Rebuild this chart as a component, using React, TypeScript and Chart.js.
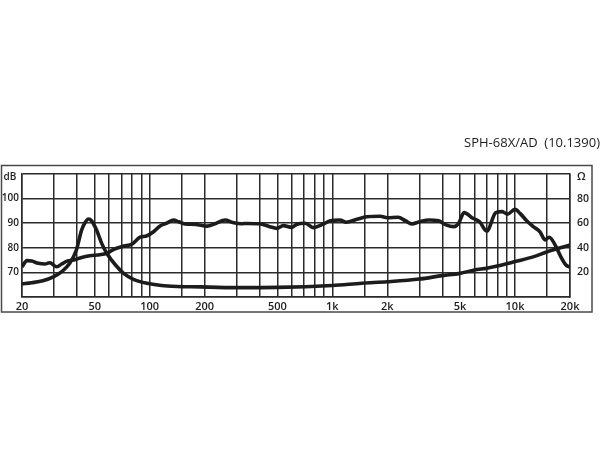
import React, { useEffect, useRef } from "react";
import { Chart, registerables } from "chart.js";

Chart.register(...registerables);

const title = "SPH-68X/AD  (10.1390)";

// SPL response (dB)
const splFreq = [20, 21.3, 22.6, 24.6, 26.7, 28.4, 31, 33, 35.3, 38.4, 42.4, 47, 53.4, 58.2, 63.6, 72, 80, 88.7, 96, 105, 114, 124, 135, 144, 156, 178, 206, 228, 259, 285, 320, 341, 404, 455, 496, 539, 600, 640, 711, 786, 889, 976, 1100, 1192, 1363, 1545, 1828, 2000, 2290, 2510, 2720, 3000, 3380, 3810, 4190, 4630, 4920, 5260, 5880, 6400, 7000, 7850, 8500, 9100, 9990, 10650, 11580, 12600, 13700, 14600, 15400, 16600, 17800, 19000, 20000];
const splDb = [72.3, 74.8, 74.6, 73.7, 73.4, 73.9, 72.3, 73.4, 74.6, 75, 76.1, 76.8, 77.2, 77.8, 79.4, 80.7, 81.5, 84.3, 84.8, 86.5, 88.9, 90, 91.3, 90.6, 89.7, 89.5, 88.8, 89.8, 91.3, 90.3, 89.8, 89.9, 89.7, 88.6, 87.9, 89, 88.3, 89.6, 90, 88.2, 89.6, 91, 91.3, 90.4, 91.6, 92.6, 92.8, 92.2, 92.4, 91, 89.7, 90.6, 91.3, 91, 89.3, 88.6, 90, 94.3, 92, 90.6, 86.8, 94.3, 94.7, 93.7, 95.6, 94, 91, 88.6, 86.5, 83.2, 84.3, 81.1, 76.4, 73, 72.1];

// Impedance (Ω)
const impFreq = [20, 22.6, 26, 29.7, 33, 36.5, 39.7, 42.4, 44.5, 46.2, 48, 51.2, 54.6, 58.2, 65, 72, 81.5, 96.6, 125, 190, 300, 500, 1000, 1450, 2000, 3000, 4000, 5000, 6000, 7000, 8000, 10000, 12700, 15000, 20000];
const impOhm = [10.6, 11.6, 13.2, 16.4, 20.6, 27.4, 38.2, 54.4, 61, 63.4, 62, 54.4, 43.6, 35.6, 26, 19.2, 14.4, 11.2, 9, 8.2, 7.6, 7.8, 9.4, 11.2, 12.4, 14.6, 17.4, 19.2, 22, 23.4, 25.2, 28.8, 32.8, 36.8, 42.2];

// Frequency grid lines and labels
const gridFreqs = [20, 30, 40, 50, 60, 70, 80, 90, 100, 150, 200, 300, 400, 500, 600, 700, 800, 900, 1000, 1500, 2000, 3000, 4000, 5000, 6000, 7000, 8000, 9000, 10000, 15000, 20000];
const freqLabelValues = [20, 50, 100, 200, 500, 1000, 2000, 5000, 10000, 20000];
const freqLabelTexts = ["20", "50", "100", "200", "500", "1k", "2k", "5k", "10k", "20k"];
const dbTicks = [70, 80, 90, 100];
const ohmTicks = [20, 40, 60, 80];

const FONT = "'Open Sans', 'DejaVu Sans', sans-serif";
const INK = "#1c1c1c";
const GRID = "#2b2b2b";

export default function App() {
  const ref = useRef<HTMLCanvasElement | null>(null);

  useEffect(() => {
    if (!ref.current) return;
    const decor = {
      id: "decor",
      afterDraw(chart: any) {
        const ctx = chart.ctx;
        ctx.save();
        // outer frame
        ctx.strokeStyle = "#4a4a4a";
        ctx.lineWidth = 1.5;
        ctx.strokeRect(1.5, 165.5, 590.5, 146.5);
        // title
        ctx.fillStyle = INK;
        ctx.font = `13px ${FONT}`;
        ctx.textAlign = "right";
        ctx.textBaseline = "middle";
        ctx.fillText(title, 600, 143.5);
        // axis unit labels
        ctx.font = `600 10px ${FONT}`;
        ctx.textAlign = "center";
        ctx.fillText("dB", 10, 177);
        ctx.textAlign = "left";
        ctx.font = `600 11px ${FONT}`;
        ctx.fillText("Ω", 577, 177);
        ctx.restore();
      },
    };

    const chart = new Chart(ref.current, {
      type: "line",
      data: {
        datasets: [
          {
            label: "SPL",
            data: splFreq.map((f, i) => ({ x: f, y: splDb[i] })),
            borderColor: INK,
            borderWidth: 3.6,
            pointRadius: 0,
            cubicInterpolationMode: "monotone",
            yAxisID: "y",
          },
          {
            label: "Impedance",
            data: impFreq.map((f, i) => ({ x: f, y: impOhm[i] })),
            borderColor: INK,
            borderWidth: 3.6,
            pointRadius: 0,
            cubicInterpolationMode: "monotone",
            yAxisID: "y2",
          },
        ],
      },
      options: {
        responsive: false,
        animation: false,
        events: [],
        layout: { padding: { top: 174, left: 0, right: 0, bottom: 0 } },
        plugins: { legend: { display: false }, tooltip: { enabled: false }, title: { display: false } },
        scales: {
          x: {
            type: "logarithmic",
            min: 20,
            max: 20000,
            afterBuildTicks: (scale: any) => {
              scale.ticks = gridFreqs.map((v) => ({ value: v }));
            },
            afterFit: (scale: any) => {
              scale.height = 153;
            },
            ticks: {
              autoSkip: false,
              maxRotation: 0,
              minRotation: 0,
              padding: 3,
              color: INK,
              font: { family: FONT, size: 11, weight: "600" },
              callback: (v: any) => {
                const idx = freqLabelValues.indexOf(Number(v));
                return idx >= 0 ? freqLabelTexts[idx] : "";
              },
            },
            grid: { color: GRID, lineWidth: 1.5, drawTicks: false },
            border: { color: GRID, width: 1.5 },
          },
          y: {
            type: "linear",
            position: "left",
            min: 60,
            max: 110,
            afterBuildTicks: (scale: any) => {
              const t = [];
              for (let v = 60; v <= 110; v += 5) t.push({ value: v });
              scale.ticks = t;
            },
            afterFit: (scale: any) => {
              scale.width = 22;
            },
            ticks: {
              padding: 3,
              color: INK,
              font: { family: FONT, size: 10, weight: "600" },
              callback: (v: any) => (dbTicks.includes(Number(v)) ? String(v) : ""),
            },
            grid: { color: GRID, lineWidth: 1.5, drawTicks: false },
            border: { color: GRID, width: 1.5 },
          },
          y2: {
            type: "linear",
            position: "right",
            min: 0,
            max: 100,
            afterBuildTicks: (scale: any) => {
              const t = [];
              for (let v = 0; v <= 100; v += 10) t.push({ value: v });
              scale.ticks = t;
            },
            afterFit: (scale: any) => {
              scale.width = 30;
            },
            ticks: {
              padding: 7,
              color: INK,
              font: { family: FONT, size: 10.5, weight: "600" },
              callback: (v: any) => (ohmTicks.includes(Number(v)) ? String(v) : ""),
            },
            grid: { drawOnChartArea: false, drawTicks: false },
            border: { color: GRID, width: 1.5 },
          },
        },
      },
      plugins: [decor],
    } as any);

    return () => chart.destroy();
  }, []);

  return (
    <div style={{ position: "absolute", left: 0, top: 0, width: 600, height: 450, background: "#fff" }}>
      <canvas ref={ref} width={600} height={450} style={{ width: 600, height: 450, display: "block" }} />
    </div>
  );
}
